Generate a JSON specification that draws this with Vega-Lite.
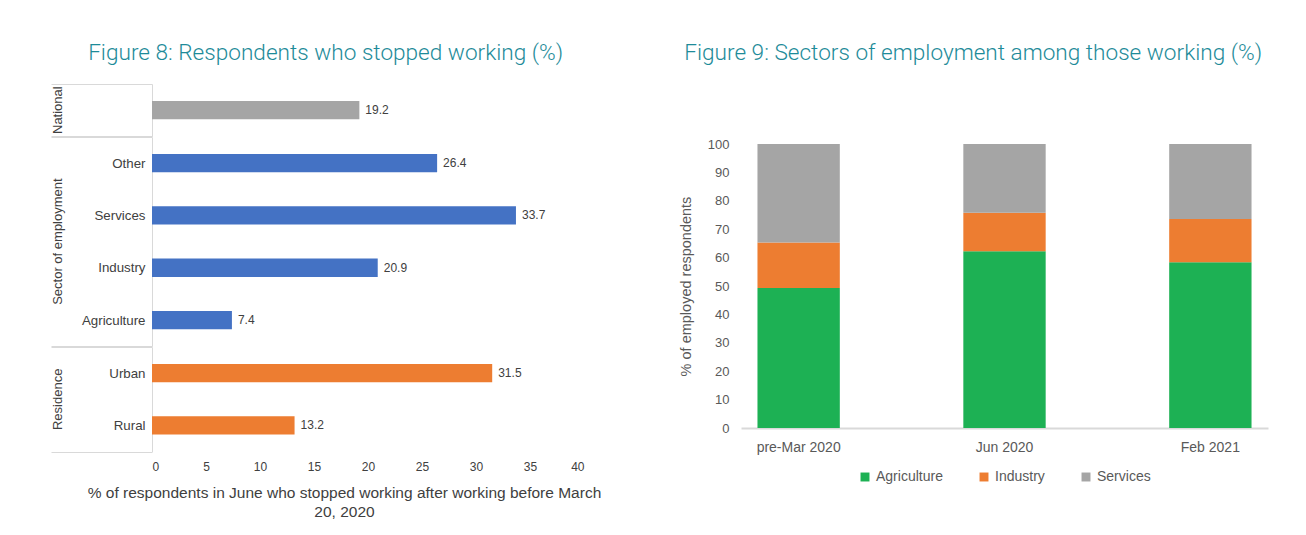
{
  "$schema": "https://vega.github.io/schema/vega-lite/v6.json",
  "padding": {"left": 50, "top": 42, "right": 10, "bottom": 5},
  "background": "white",
  "datasets": {
    "fig8": [
      {"group": "National", "category": "National", "value": 19.2},
      {"group": "Sector of employment", "category": "Other", "value": 26.4},
      {"group": "Sector of employment", "category": "Services", "value": 33.7},
      {"group": "Sector of employment", "category": "Industry", "value": 20.9},
      {"group": "Sector of employment", "category": "Agriculture", "value": 7.4},
      {"group": "Residence", "category": "Urban", "value": 31.5},
      {"group": "Residence", "category": "Rural", "value": 13.2}
    ],
    "fig9": [
      {"period": "pre-Mar 2020", "sector": "Agriculture", "pct": 49.3},
      {"period": "pre-Mar 2020", "sector": "Industry", "pct": 16.0},
      {"period": "pre-Mar 2020", "sector": "Services", "pct": 34.7},
      {"period": "Jun 2020", "sector": "Agriculture", "pct": 62.2},
      {"period": "Jun 2020", "sector": "Industry", "pct": 13.6},
      {"period": "Jun 2020", "sector": "Services", "pct": 24.2},
      {"period": "Feb 2021", "sector": "Agriculture", "pct": 58.4},
      {"period": "Feb 2021", "sector": "Industry", "pct": 15.2},
      {"period": "Feb 2021", "sector": "Services", "pct": 26.4}
    ]
  },
  "spacing": 77,
  "resolve": {"scale": {"color": "independent"}},
  "hconcat": [
    {
      "data": {"name": "fig8"},
      "title": {"text": "Figure 8: Respondents who stopped working (%)", "offset": 12},
      "facet": {
        "row": {
          "field": "group", "type": "nominal",
          "sort": ["National", "Sector of employment", "Residence"],
          "title": null,
          "header": {"labelAngle": -90, "labelOrient": "left", "labelAnchor": "middle", "labelFont": "Liberation Sans", "labelFontSize": 13, "labelColor": "#404040", "labelPadding": 81}
        }
      },
      "spacing": 0,
      "bounds": "flush",
      "resolve": {"scale": {"y": "independent"}, "axis": {"y": "independent"}},
      "spec": {
        "width": 432,
        "height": {"step": 52.3},
        "encoding": {
          "y": {
            "field": "category", "type": "nominal", "sort": null,
            "scale": {"paddingInner": 0, "paddingOuter": 0},
            "axis": {
              "title": null, "labelFontSize": 13.3, "labelColor": "#404040",
              "labelExpr": "datum.value == 'National' ? '' : datum.label",
              "tickBand": "extent", "ticks": true, "tickSize": 101, "tickColor": "#d9d9d9",
              "tickOpacity": {"condition": {"test": "datum.value == null || datum.value == 'National' || datum.value == 'Agriculture' || datum.value == 'Rural'", "value": 1}, "value": 0},
              "labelPadding": -94, "domain": true, "domainColor": "#d9d9d9", "grid": false
            }
          },
          "x": {
            "field": "value", "type": "quantitative",
            "scale": {"domain": [0, 40]},
            "axis": {
              "values": [0, 5, 10, 15, 20, 25, 30, 35, 40], "grid": false, "domain": false, "ticks": false,
              "labelFontSize": 12, "labelColor": "#404040", "labelPadding": 9,
              "title": ["% of respondents in June who stopped working after working before March", "20, 2020"],
              "titleFontSize": 15.5, "titleFontWeight": "normal", "titleColor": "#404040", "titlePadding": 13,
              "titleLineHeight": 19, "titleX": 192, "titleAlign": "center"
            }
          }
        },
        "layer": [
          {
            "mark": {"type": "bar", "height": {"band": 0.35}},
            "encoding": {
              "color": {
                "field": "group", "type": "nominal",
                "scale": {"domain": ["National", "Sector of employment", "Residence"], "range": ["#a5a5a5", "#4472c4", "#ed7d31"]},
                "legend": null
              }
            }
          },
          {
            "mark": {"type": "text", "align": "left", "dx": 6, "fontSize": 12, "color": "#404040", "font": "Liberation Sans"},
            "encoding": {"text": {"field": "value", "type": "quantitative", "format": ".1f"}}
          }
        ]
      }
    },
    {
      "data": {"name": "fig9"},
      "title": {"text": "Figure 9: Sectors of employment among those working (%)", "offset": 19, "frame": "bounds"},
      "width": 527,
      "height": 344,
      "mark": {"type": "bar"},
      "encoding": {
        "x": {
          "field": "period", "type": "nominal", "sort": null,
          "scale": {"paddingInner": 0.6, "paddingOuter": 0.08},
          "axis": {"title": null, "labelAngle": 0, "ticks": false, "domainColor": "#d9d9d9", "domainWidth": 2, "labelPadding": 12, "labelFontSize": 14, "labelColor": "#595959"}
        },
        "y": {
          "field": "pct", "type": "quantitative", "stack": "zero",
          "scale": {"domain": [0, 100], "range": [344, 60]},
          "axis": {"title": "% of employed respondents", "values": [0, 10, 20, 30, 40, 50, 60, 70, 80, 90, 100], "grid": false, "domain": false, "ticks": false, "labelPadding": 12, "labelFontSize": 13, "labelColor": "#595959", "titleFontSize": 14.5, "titleFontWeight": "normal", "titleColor": "#595959", "titlePadding": 14}
        },
        "color": {
          "field": "sector", "type": "nominal",
          "scale": {"domain": ["Agriculture", "Industry", "Services"], "range": ["#1db154", "#ed7d31", "#a5a5a5"]},
          "legend": {"orient": "bottom", "direction": "horizontal", "title": null, "symbolType": "square", "symbolSize": 80, "symbolStrokeWidth": 0, "labelFontSize": 14, "labelColor": "#595959", "columnPadding": 34, "offset": 16}
        },
        "order": {"field": "sector", "type": "nominal", "sort": "ascending"}
      }
    }
  ],
  "config": {
    "font": "Liberation Sans",
    "view": {"stroke": null},
    "legend": {"layout": {"bottom": {"anchor": "middle"}}},
    "title": {"font": "Roboto", "fontWeight": 300, "fontSize": 22.6, "color": "#1e8b99", "anchor": "middle"}
  }
}
